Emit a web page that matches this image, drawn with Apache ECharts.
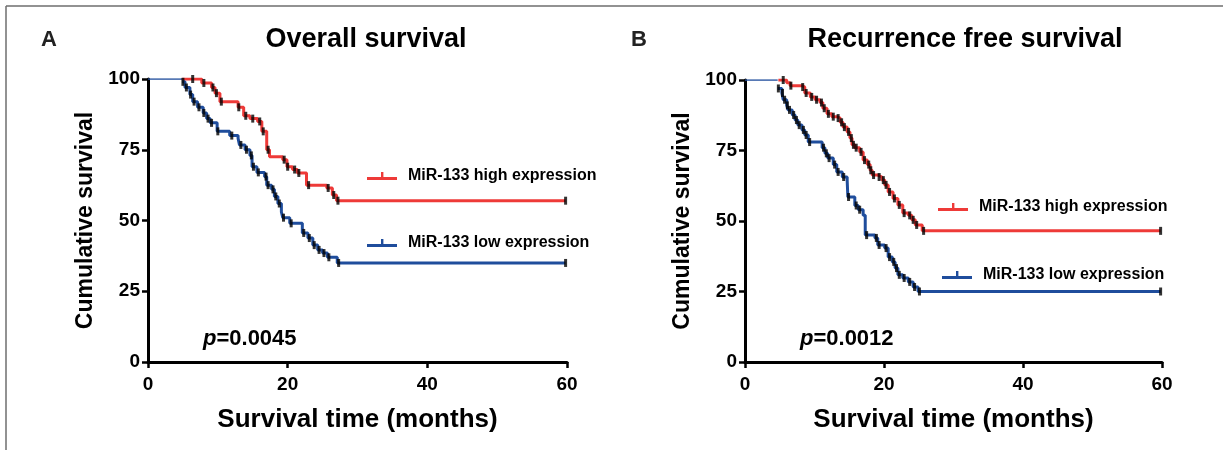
<!DOCTYPE html>
<html>
<head>
<meta charset="utf-8">
<script src="https://cdn.jsdelivr.net/npm/echarts@6/dist/echarts.min.js"></script>
<style>
  html, body { margin: 0; padding: 0; background: #fff; }
  #chart { width: 1223px; height: 450px; }
</style>
</head>
<body>
<div id="chart"></div>
<script>
// Kaplan-Meier steps: [month, cumulative survival after the drop]
var osHigh = [[4.9,100],[7.7,98.6],[9.1,97],[9.6,95],[10.3,92],[12.9,90],[13.7,87],[14.6,86],[15.7,85],[16.3,81.5],[17,75],[17.4,72.5],[19.3,71.5],[19.9,69],[20.7,68],[21.4,66.8],[22.7,62.5],[25.6,61.5],[26.4,59],[27,57],[59.8,57]];
var osLow = [[0,100],[4.9,99],[5.3,97],[6,94.5],[6.4,92],[7.1,90],[7.9,88],[8.4,86],[8.9,84.5],[9.9,81.5],[11.7,80],[12.9,79],[13.1,76.7],[13.9,75],[14.6,73],[14.9,69],[15.6,67],[16.7,65.5],[17,62.5],[17.7,61],[18.1,58.5],[18.6,56],[19.1,53],[19.3,51],[20.3,49],[22.1,45.6],[22.9,43.8],[23.6,41.3],[24.3,39.6],[25,38.5],[25.7,37],[27.1,35],[59.8,35]];
var rfsHigh = [[4.8,100],[6,99],[6.5,98],[8.2,97.5],[8.6,95.4],[9.4,94],[10.1,93],[10.8,92],[11.2,90],[11.8,88],[12.5,87],[13.2,86.5],[13.7,85],[14.1,83.3],[14.7,81.6],[15.1,79.4],[15.4,77],[15.8,76],[16.5,74.5],[17,71.6],[17.6,70],[18,68],[18.3,66.3],[19.1,65.6],[19.7,64.5],[20.1,62.8],[20.6,60.3],[21.3,58],[22,55.7],[22.7,52.8],[23.5,52],[24,50.4],[24.5,48.6],[25.5,46.5],[59.8,46.5]];
var rfsLow = [[0,100],[4.7,97],[5.3,95.4],[5.5,93],[6,91],[6.2,89.4],[6.8,87.6],[7.2,85.8],[7.6,84],[8.2,82.3],[8.6,80.5],[9.1,78],[11.1,76],[11.5,74],[11.9,72.3],[12.7,70],[13.2,67.4],[14,65.6],[14.7,64.5],[14.8,58.5],[15.8,55.5],[16.3,54],[17,52],[17.3,45],[18.7,44],[19.1,41.5],[20.1,40.4],[20.6,37.2],[21.2,35.5],[21.6,33.3],[22,30.9],[22.7,29.8],[23.5,28.4],[24.2,26.6],[24.9,25],[59.8,25]];

// censored observation times (months)
var osHighCens = [6.4,8,9.3,9.8,10.5,13,14,15,16,16.5,17.2,19.5,20,21,21.6,23,25.8,26.6,27.2,59.8];
var osLowCens = [5,5.5,6.1,6.6,7.3,8,8.6,9.1,10,12,13.3,14.1,14.8,15.1,15.8,16.9,17.2,17.9,18.3,18.8,19.4,20.5,22.3,23.1,23.8,24.5,25.2,25.9,27.3,59.8];
var rfsHighCens = [5.5,6.6,8.3,8.8,9.6,10.3,11,11.4,12,12.7,13.4,13.9,14.3,14.9,15.3,15.6,16,16.7,17.2,17.8,18.1,18.5,19.3,19.9,20.3,20.8,21.5,22.2,22.9,23.7,24.2,24.7,25.7,59.8];
var rfsLowCens = [4.8,5.4,5.7,6.1,6.4,7,7.4,7.8,8.4,8.8,9.3,11.3,11.7,12.1,12.9,13.4,14.2,14.9,16,16.5,17.5,18.9,19.3,20.3,20.8,21.4,21.8,22.2,22.9,23.7,24.4,25.1,59.8];

var yTicks = [0, 25, 50, 75, 100];
var xTicks = [0, 20, 40, 60];
var highName = 'MiR-133 high expression';
var lowName = 'MiR-133 low expression';
var panelTitles = ['Overall survival', 'Recurrence free survival'];
var pValues = ['0.0045', '0.0012'];

var red = '#ee3a38';
var blue = '#1f4d9c';
var font = '"Liberation Sans", Arial, sans-serif';

// survival value at time t from a step list
function survAt(steps, t) {
    var v = steps[0][1];
    for (var i = 0; i < steps.length; i++) {
        if (steps[i][0] <= t) v = steps[i][1];
    }
    return v;
}
function censPoints(steps, times) {
    return times.map(function (t) { return [t, survAt(steps, t)]; });
}

var chart = echarts.init(document.getElementById('chart'));

function xAxisFor(idx) {
    return {
        gridIndex: idx, type: 'value', min: xTicks[0], max: xTicks[xTicks.length - 1], interval: 20,
        name: 'Survival time (months)', nameLocation: 'middle', nameGap: 45,
        nameTextStyle: { fontFamily: font, fontWeight: 'bold', fontSize: 26, color: '#000' },
        axisLine: { onZero: false, lineStyle: { color: '#000', width: 3 } },
        axisTick: { length: 6, lineStyle: { color: '#000', width: 2.5 } },
        axisLabel: { fontFamily: font, fontWeight: 'bold', fontSize: 19, color: '#000', margin: 13 },
        splitLine: { show: false }
    };
}
function yAxisFor(idx) {
    return {
        gridIndex: idx, type: 'value', min: yTicks[0], max: yTicks[yTicks.length - 1], interval: 25,
        name: 'Cumulative survival', nameLocation: 'middle', nameGap: 51, nameRotate: 90,
        nameTextStyle: { fontFamily: font, fontWeight: 'bold', fontSize: 23, color: '#000' },
        axisLine: { show: true, onZero: false, lineStyle: { color: '#000', width: 3 } },
        axisTick: { show: true, length: 6, lineStyle: { color: '#000', width: 2.5 } },
        axisLabel: { fontFamily: font, fontWeight: 'bold', fontSize: 19, color: '#000', margin: 8 },
        splitLine: { show: false }
    };
}

function kmLine(name, steps, color, idx, z) {
    return {
        name: name, type: 'line', step: 'end', xAxisIndex: idx, yAxisIndex: idx,
        data: steps, showSymbol: false, silent: true, z: z,
        lineStyle: { color: color, width: 3 }, itemStyle: { color: color }
    };
}
function leadLine(steps, color, idx) {
    // thin segment at 100% before the first event
    return {
        type: 'line', xAxisIndex: idx, yAxisIndex: idx, showSymbol: false, silent: true, z: 4,
        data: [[0, 100], [steps[1][0], 100]],
        lineStyle: { color: color, width: 1.5 }
    };
}
function censSeries(steps, times, idx) {
    return {
        type: 'scatter', xAxisIndex: idx, yAxisIndex: idx, silent: true, z: 6,
        symbol: 'rect', symbolSize: [3, 8],
        data: censPoints(steps, times),
        itemStyle: { color: '#000' }
    };
}

var legendIcon = 'path://M0,5h30v3h-30z M14,0h2.4v6h-2.4z';
function legendAt(name, left, top) {
    return {
        data: [name], left: left, top: top, icon: legendIcon,
        itemWidth: 30, itemHeight: 8, selectedMode: false,
        textStyle: { fontFamily: font, fontWeight: 'bold', fontSize: 16, color: '#000', padding: [0, 0, 0, 6] }
    };
}

var titleText = { fontFamily: font, fontWeight: 'bold', fontSize: 27, color: '#000' };
var pRich = { i: { fontFamily: font, fontWeight: 'bold', fontStyle: 'italic', fontSize: 22, color: '#000' } };

var option = {
    backgroundColor: '#fff',
    animation: false,
    grid: [
        { left: 148, right: 656, top: 79, bottom: 88 },
        { left: 745, right: 61, top: 80, bottom: 88 }
    ],
    xAxis: [xAxisFor(0), xAxisFor(1)],
    yAxis: [yAxisFor(0), yAxisFor(1)],
    title: [
        { text: 'A', left: 36, top: 24, textStyle: { fontFamily: font, fontWeight: 'bold', fontSize: 22, color: '#222' } },
        { text: panelTitles[0], left: 361, top: 21, textAlign: 'center', textStyle: titleText },
        { text: 'B', left: 626, top: 24, textStyle: { fontFamily: font, fontWeight: 'bold', fontSize: 22, color: '#222' } },
        { text: panelTitles[1], left: 960, top: 21, textAlign: 'center', textStyle: titleText },
        { text: '{i|p}=' + pValues[0], left: 198, top: 323, textStyle: { fontFamily: font, fontWeight: 'bold', fontSize: 22, color: '#000', rich: pRich } },
        { text: '{i|p}=' + pValues[1], left: 795, top: 323, textStyle: { fontFamily: font, fontWeight: 'bold', fontSize: 22, color: '#000', rich: pRich } }
    ],
    legend: [
        legendAt(highName, 362, 163),
        legendAt(lowName, 362, 230),
        legendAt(highName, 933, 194),
        legendAt(lowName, 937, 262)
    ],
    graphic: [
        { type: 'line', shape: { x1: 6, y1: 6, x2: 1223, y2: 6 }, style: { stroke: '#6e6e6e', lineWidth: 1.5 } },
        { type: 'line', shape: { x1: 6, y1: 6, x2: 6, y2: 450 }, style: { stroke: '#6e6e6e', lineWidth: 1.5 } }
    ],
    series: [
        kmLine(highName, osHigh, red, 0, 3),
        kmLine(lowName, osLow.slice(1), blue, 0, 4),
        leadLine(osLow, blue, 0),
        censSeries(osHigh, osHighCens, 0),
        censSeries(osLow, osLowCens, 0),
        kmLine(highName, rfsHigh, red, 1, 3),
        kmLine(lowName, rfsLow.slice(1), blue, 1, 4),
        leadLine(rfsLow, blue, 1),
        censSeries(rfsHigh, rfsHighCens, 1),
        censSeries(rfsLow, rfsLowCens, 1)
    ]
};

chart.setOption(option);
</script>
</body>
</html>
